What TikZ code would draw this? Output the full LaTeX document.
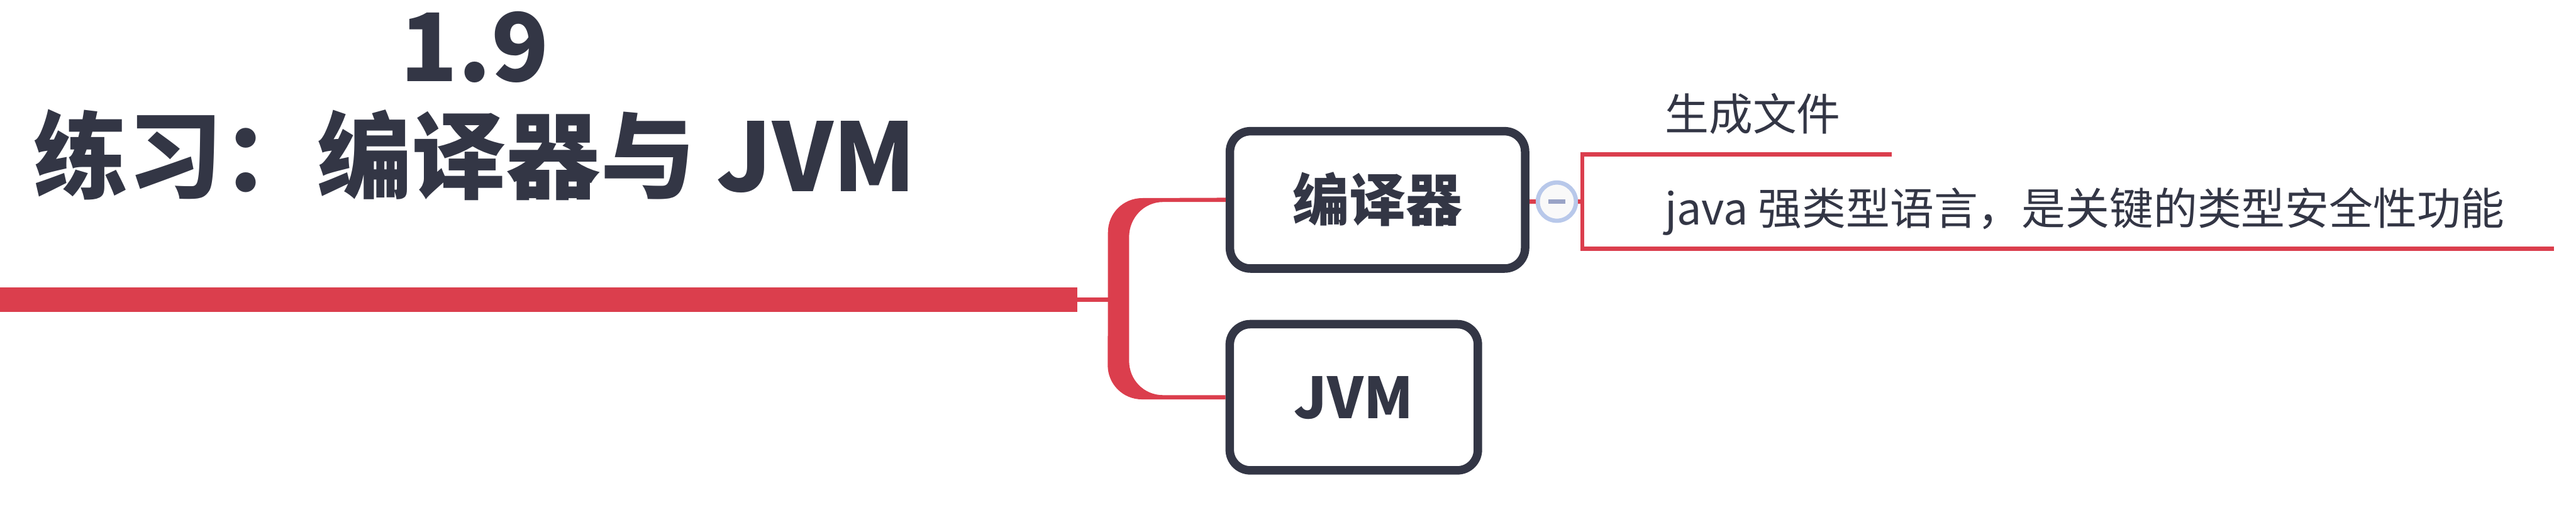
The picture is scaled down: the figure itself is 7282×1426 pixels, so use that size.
\documentclass[tikz,border=0pt]{standalone}
\usepackage{fontspec}
\setmainfont{Noto Sans CJK SC}
\usetikzlibrary{positioning, calc}

\definecolor{mapred}{RGB}{219,62,77}
\definecolor{inkdark}{RGB}{51,54,69}
\definecolor{foldring}{RGB}{184,200,234}
\definecolor{foldfill}{RGB}{249,249,249}
\definecolor{foldbar}{RGB}{153,163,198}

\tikzset{
  root/.style={text=inkdark, inner sep=0pt, align=center, font=\bfseries\fontsize{76}{88.5}\selectfont},
  topic/.style={draw=inkdark, line width=0.24cm, rounded corners=0.58cm, fill=white, text=inkdark,
    inner sep=0pt, text height=40pt, text depth=5.5pt, font=\bfseries\fontsize{45.5}{50}\selectfont},
  leaf/.style={text=inkdark, inner sep=0pt, anchor=base west, font=\fontsize{35.3}{40}\selectfont},
  twig/.style={draw=mapred, line width=0.12cm},
  fold/.style={circle, draw=foldring, fill=foldfill, line width=0.12cm, minimum size=1.08cm, inner sep=0pt},
}

\begin{document}
\begin{tikzpicture}[x=0.01cm, y=-0.01cm]
  \useasboundingbox (0,0) rectangle (7282,1426);

  % central topic and its bar
  \node[root] (root) at (1342,300) {1.9\\练习：编译器与 JVM};
  \coordinate (barstart) at (0,847);
  \coordinate (barend) at (3046,847);
  \draw[draw=mapred, line width=0.68cm] (barstart) -- (barend);

  % main topics
  \node[topic, minimum width=8.34cm, minimum height=3.88cm] (comp) at (3894,565) {编译器};
  \node[topic, minimum width=7.01cm, minimum height=4.13cm] (jvm) at (3827,1123) {JVM};

  % tapered fork
  \coordinate (fork) at (3162,847);
  \draw[twig] (barend) -- (fork);
  \fill[mapred] ($(fork)+(-30,0)$) -- ++(0,-190)
    .. controls +(0,-54) and +(-54,0) .. ++(97,-97)
    -- ($(comp.west)+(0,-6)$) -- ($(comp.west)+(0,6)$) -- ++(-177,0)
    .. controls +(-54,0) and +(0,-54) .. ++(-96,99)
    -- ++(0,350)
    .. controls +(0,54) and +(-54,0) .. ++(96,97)
    -- ($(jvm.west)+(0,-6)$) -- ($(jvm.west)+(0,6)$) -- ++(-236,0)
    .. controls +(-54,0) and +(0,54) .. ++(-97,-97)
    -- cycle;

  % fold button
  \node[fold] (fold) at (4401,570) {};
  \fill[foldbar] ($(fold)+(-24,-6)$) rectangle ($(fold)+(24,6)$);
  \draw[twig] (comp.east |- fold) -- (fold.west);
  \coordinate (bracket) at (4473,570);
  \draw[twig] (fold.east) -- (bracket);

  % subtopics
  \node[leaf] (gen) at (4706,369) {生成文件};
  \node[leaf] (typed) at (4706,635) {java 强类型语言，是关键的类型安全性功能};
  \draw[twig] (bracket) |- ($(gen.base east)+(143,68)$);
  \draw[twig] (bracket) |- ($(typed.base east)+(139,68)$);
\end{tikzpicture}
\end{document}
